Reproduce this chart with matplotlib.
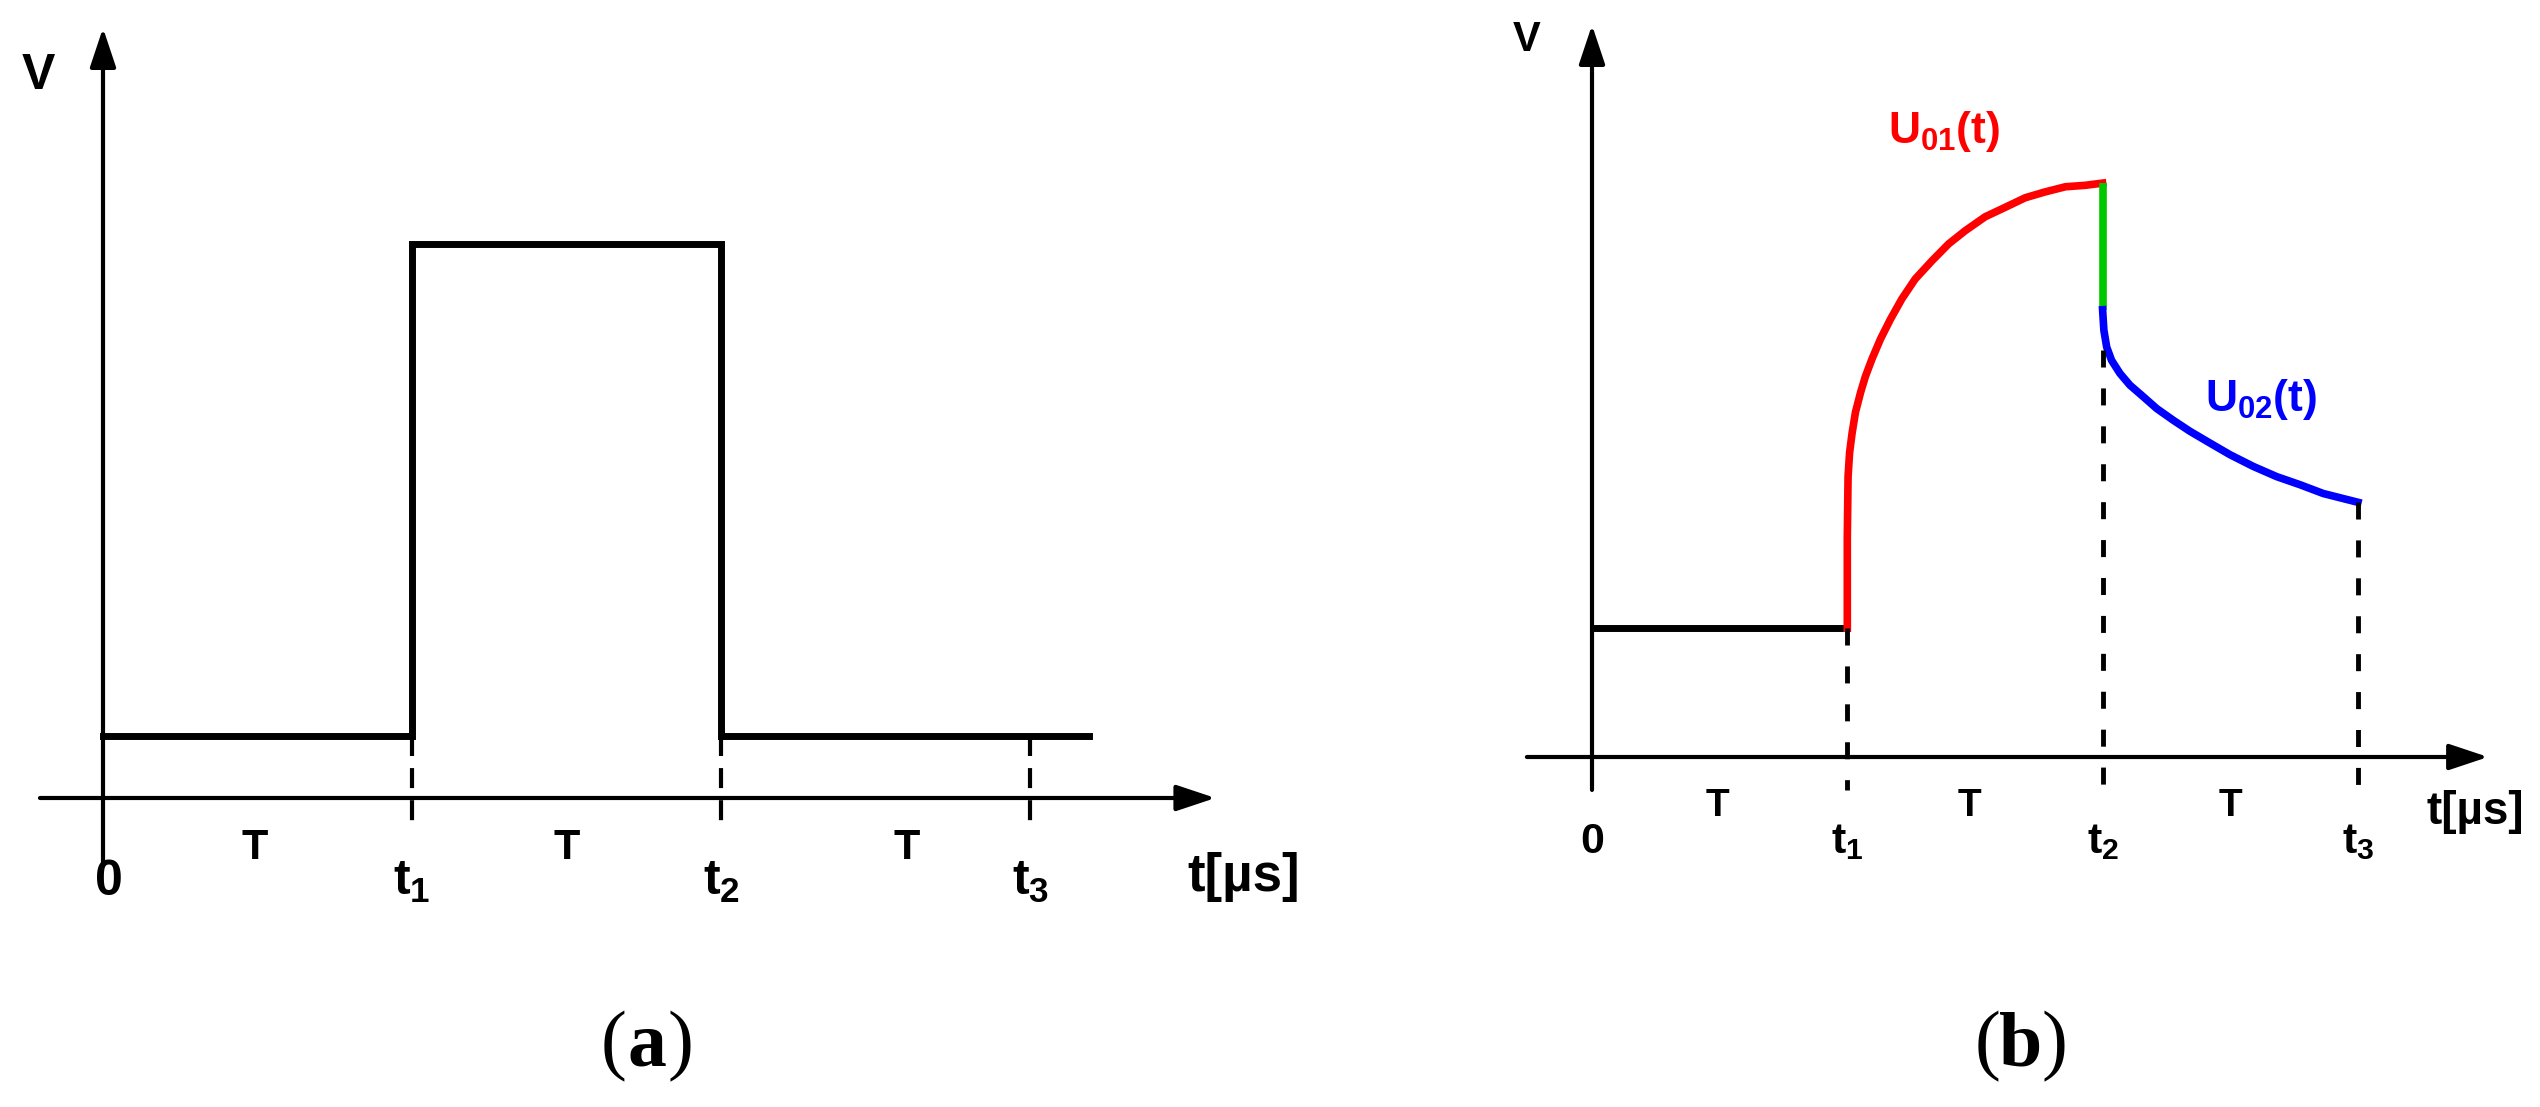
import matplotlib
matplotlib.use("Agg")
import matplotlib.pyplot as plt
from matplotlib import font_manager

# ---- datos (tiempo en unidades de T, tension en unidades arbitrarias) ----
t_marks = [0, 1, 2, 3]
tick_labels = ["0", "$t_1$", "$t_2$", "$t_3$"]
period_label = "T"
time_label = "t[µs]"
v_label = "V"

# (a) pulso rectangular
a_low = 0.8
a_high = 7.2
a_t = [0, 1, 1, 2, 2, 3.19]
a_v = [a_low, a_low, a_high, a_high, a_low, a_low]
a_T_pos = [0.49, 1.5, 2.6]

# (b) respuesta
b_low = 1.76
b_flat_t = [0, 1]
b_flat_v = [b_low, b_low]
u01_t = [1.0, 1.0, 1.003, 1.009, 1.019, 1.032, 1.052, 1.071, 1.097, 1.130, 1.169, 1.214,
         1.266, 1.332, 1.397, 1.462, 1.540, 1.619, 1.697, 1.775, 1.854, 1.932, 2.0]
u01_v = [1.76, 2.99, 3.83, 4.16, 4.43, 4.71, 4.98, 5.20, 5.44, 5.71, 5.98, 6.26,
         6.53, 6.78, 7.01, 7.19, 7.38, 7.51, 7.64, 7.72, 7.79, 7.81, 7.84]
jump_t = [2.0, 2.0]
jump_v = [7.84, 6.11]
u02_t = [2.0, 2.005, 2.016, 2.035, 2.068, 2.107, 2.160, 2.212, 2.277, 2.342, 2.420,
         2.499, 2.590, 2.682, 2.773, 2.864, 2.943, 3.0]
u02_v = [6.11, 5.83, 5.60, 5.42, 5.24, 5.08, 4.92, 4.76, 4.60, 4.45, 4.29,
         4.13, 3.97, 3.83, 3.72, 3.60, 3.53, 3.48]
b_dash_top = [b_low, 5.56, u02_v[-1]]
b_T_pos = [0.49, 1.48, 2.5]
u01_label = "$U_{01}(t)$"
u02_label = "$U_{02}(t)$"


# Fuente: Arial angosta si existe
def elegir(nombre, alternativa):
    try:
        font_manager.findfont(font_manager.FontProperties(family=nombre, weight="bold"),
                              fallback_to_default=False)
        return nombre
    except ValueError:
        return alternativa


sans = elegir("Liberation Sans Narrow", "Liberation Sans")
plt.rcParams["mathtext.fontset"] = "custom"
plt.rcParams["mathtext.rm"] = sans + ":bold"
plt.rcParams["mathtext.it"] = sans + ":bold"
plt.rcParams["mathtext.bf"] = sans + ":bold"

W, H = 2540, 1107
fig = plt.figure(figsize=(W / 100, H / 100), dpi=100)


# Crea un panel: x0,y0 = pixel del origen (y desde arriba), sx,sy = pixeles por unidad
def panel(left, right, x0, sx, y0, sy):
    ax = fig.add_axes([left / W, 0, (right - left) / W, 1])
    ax.set_xlim((left - x0) / sx, (right - x0) / sx)
    ax.set_ylim(-(H - y0) / sy, y0 / sy)
    ax.axis("off")
    return ax


def flecha(ax, x0, y0, x1, y1, lw):
    ax.annotate("", xy=(x1, y1), xytext=(x0, y0),
                arrowprops=dict(arrowstyle="-|>,head_length=1.2,head_width=0.4",
                                lw=lw, color="k", shrinkA=0, shrinkB=0,
                                mutation_scale=20))


def txt(ax, x, y, s, size, **kw):
    ax.text(x, y, s, fontsize=size, fontfamily=sans, fontweight="bold", **kw)


# ---------------- (a) ----------------
ax1 = panel(0, 1270, 103, 309, 798, 77)
flecha(ax1, 0, -0.86, 0, 10.0, 3)
flecha(ax1, -0.204, 0, 3.60, 0, 3)
ax1.plot(a_t, a_v, color="k", lw=5, solid_joinstyle="miter")
for tm in t_marks[1:]:
    ax1.plot([tm, tm], [a_low, -0.36], color="k", lw=3, ls=(0, (4.8, 2.9)))
txt(ax1, -0.21, 9.38, v_label, 36, ha="center", va="center")
for x in a_T_pos:
    txt(ax1, x, -0.65, period_label, 31, ha="center", va="center")
for x, s in zip(t_marks, tick_labels):
    txt(ax1, x + (0.02 if x == 0 else 0), -1.09, s, 36, ha="center", va="center")
txt(ax1, 3.51, -1.03, time_label, 38, ha="left", va="center")

# ---------------- (b) ----------------
ax2 = panel(1270, 2540, 1592, 255.3, 757, 73.2)
flecha(ax2, 0, -0.45, 0, 10.0, 3)
flecha(ax2, -0.255, 0, 3.51, 0, 3)
ax2.plot(b_flat_t, b_flat_v, color="k", lw=5, solid_capstyle="butt")
ax2.plot(u01_t, u01_v, color="#ff0000", lw=5.5, solid_joinstyle="round")
ax2.plot(jump_t, jump_v, color="#00c800", lw=5.5, solid_capstyle="butt")
ax2.plot(u02_t, u02_v, color="#0000ff", lw=5.5, solid_joinstyle="round")
for tm, top in zip(t_marks[1:], b_dash_top):
    ax2.plot([tm, tm], [top, -0.45], color="k", lw=3.5, ls=(0, (3.5, 4.3)))
txt(ax2, -0.255, 9.80, v_label, 30, ha="center", va="center")
for x in b_T_pos:
    txt(ax2, x, -0.67, period_label, 28, ha="center", va="center")
for x, s in zip(t_marks, tick_labels):
    txt(ax2, x, -1.16, s, 31, ha="center", va="center")
txt(ax2, 3.27, -0.75, time_label, 33, ha="left", va="center")
txt(ax2, 1.16, 8.54, u01_label, 32, ha="left", va="center", color="#ff0000")
txt(ax2, 2.40, 4.88, u02_label, 32, ha="left", va="center", color="#0000ff")

# ---------------- etiquetas (a) (b) ----------------
for cx, letra in [(647, "a"), (2021, "b")]:
    y = 42 / H
    fig.text(cx / W, y, letra, fontsize=56, fontfamily="Liberation Serif",
             fontweight="bold", ha="center", va="baseline")
    fig.text((cx - 21) / W, y, "(", fontsize=56, fontfamily="Liberation Serif",
             ha="right", va="baseline")
    fig.text((cx + 20) / W, y, ")", fontsize=56, fontfamily="Liberation Serif",
             ha="left", va="baseline")

fig.savefig("out.png", dpi=100, facecolor="white")
